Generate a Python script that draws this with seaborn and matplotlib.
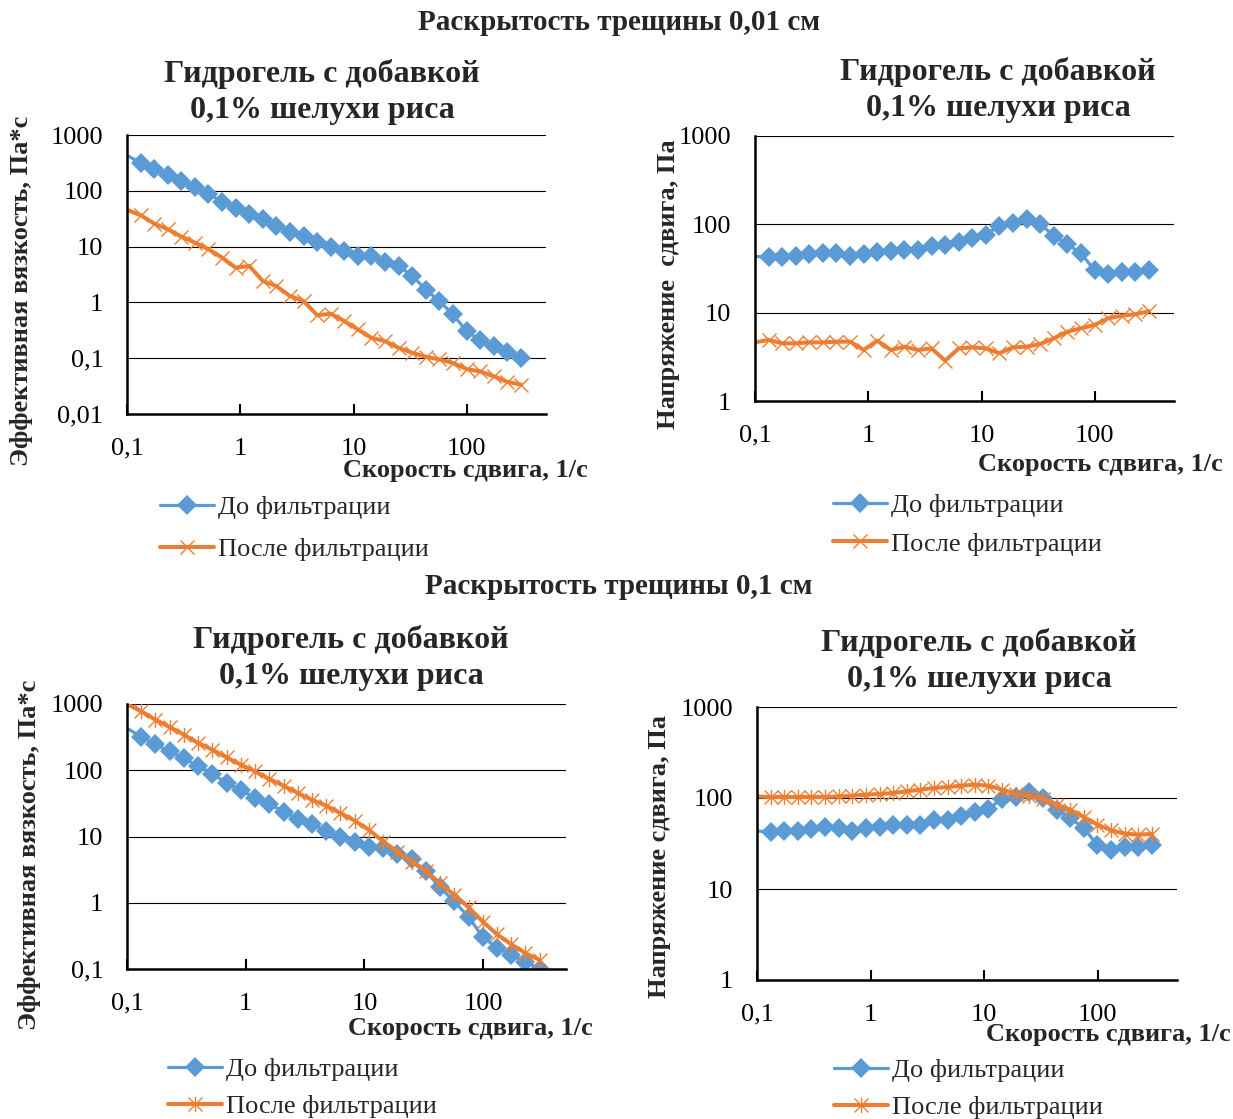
import numpy as np
import pandas as pd
import seaborn as sns
import matplotlib.pyplot as plt
from matplotlib.path import Path
from matplotlib.ticker import FixedLocator, NullLocator

# ---------------- data ----------------
shear_rate = [0.1, 0.1318, 0.1737, 0.2289, 0.3017, 0.3977, 0.5241, 0.6908, 0.9104,
              1.200, 1.581, 2.084, 2.747, 3.620, 4.771, 6.288, 8.287, 10.92, 14.39,
              18.97, 25.00, 32.95, 43.43, 57.24, 75.44, 99.43, 131.1, 172.7, 227.6, 300.0]

visc_before = [430, 320, 246, 192, 152, 116, 88.5, 63.5, 50, 38.7, 30.9, 23.7, 18.4, 15.5,
               11.9, 9.8, 8.4, 6.9, 6.7, 5.35, 4.5, 3.0, 1.7, 1.05, 0.61, 0.305, 0.21,
               0.163, 0.128, 0.1]
visc_after_001 = [45.6, 36.6, 25.9, 20.5, 15.1, 11.8, 8.96, 6.34, 4.2, 4.5, 2.42, 1.96, 1.30,
                  1.06, 0.59, 0.625, 0.462, 0.327, 0.232, 0.202, 0.153, 0.125, 0.106, 0.095,
                  0.082, 0.064, 0.058, 0.0475, 0.0376, 0.0336]
visc_after_01 = [1000, 774, 579, 449, 344, 258, 204, 156, 121, 95.9, 73.5, 58.3, 45.2, 35.8,
                 29.1, 22.5, 17.3, 12.6, 8.4, 5.93, 4.19, 3.03, 1.97, 1.31, 0.855, 0.519,
                 0.334, 0.236, 0.173, 0.137]

stress_before = [43.4, 42.2, 42.9, 43.8, 45.9, 47.5, 46.9, 43.4, 46.5, 48.3, 50.4, 51.1, 50.6,
                 57.1, 58.0, 62.7, 70.0, 76.6, 97.0, 102.6, 116, 100.8, 74.1, 59.8, 46.9,
                 30.3, 27.1, 28.6, 29.2, 30.8]
stress_after_001 = [4.61, 4.91, 4.50, 4.50, 4.61, 4.61, 4.70, 4.70, 3.78, 4.82, 3.78, 4.12, 3.78,
                    3.94, 2.86, 3.94, 4.05, 3.94, 3.47, 4.05, 4.12, 4.42, 5.12, 6.09, 6.65,
                    7.25, 8.63, 9.25, 9.58, 10.4]
stress_after_01 = [104, 102.6, 102.6, 102.6, 102.6, 102.6, 104, 106, 109, 110.7, 113.5, 118.4,
                   123.5, 128.8, 132, 136.7, 140.2, 136.7, 123.5, 111.7, 104, 98.4, 84.6, 74.5,
                   61.8, 51.0, 44.2, 40.6, 39.6, 40.2]

series_names = ["До фильтрации", "После фильтрации"]
suptitles = ["Раскрытость трещины 0,01 см", "Раскрытость трещины 0,1 см"]
panel_title = "Гидрогель с добавкой\n0,1% шелухи риса"
xlabel = "Скорость сдвига, 1/с"
ylabel_visc = "Эффективная вязкость, Па*с"
ylabel_stress_top = "Напряжение  сдвига, Па"
ylabel_stress_bottom = "Напряжение сдвига, Па"
x_ticks = [0.1, 1, 10, 100]
x_ticklabels = ["0,1", "1", "10", "100"]
y_ticks_visc_top = [0.01, 0.1, 1, 10, 100, 1000]
y_ticklabels_visc_top = ["0,01", "0,1", "1", "10", "100", "1000"]
y_ticks_visc_bottom = [0.1, 1, 10, 100, 1000]
y_ticklabels_visc_bottom = ["0,1", "1", "10", "100", "1000"]
y_ticks_stress = [1, 10, 100, 1000]
y_ticklabels_stress = ["1", "10", "100", "1000"]

# ---------------- style ----------------
sns.set_theme(style="white")
plt.rcParams['font.family'] = ['Liberation Serif', 'DejaVu Serif']

BLUE = "#5B9BD5"
ORANGE = "#ED7D31"
W, H = 1233, 1119
fig = plt.figure(figsize=(W / 100, H / 100), dpi=100)


def add_ax(l, r, t, b):
    return fig.add_axes([l / W, 1 - b / H, (r - l) / W, (b - t) / H])


def px(x, y):
    return x / W, 1 - y / H


star_path = Path([(-1, -1), (1, 1), (-1, 1), (1, -1), (0, -1.1), (0, 1.1)],
                 [Path.MOVETO, Path.LINETO, Path.MOVETO, Path.LINETO, Path.MOVETO, Path.LINETO])

panels = [
    dict(rect=(127, 546, 135, 414), yb=visc_before, ya=visc_after_001,
         yt=y_ticks_visc_top, ytl=y_ticklabels_visc_top, yl=ylabel_visc, mk='x', ms=9.5,
         xl=(465, 471), ylp=(22, 291), tp=(322, 92), lg=(160, 496), ls=0.7),
    dict(rect=(755, 1174, 136, 401), yb=stress_before, ya=stress_after_001,
         yt=y_ticks_stress, ytl=y_ticklabels_stress, yl=ylabel_stress_top, mk='x', ms=9.5,
         xl=(1100, 465), ylp=(668, 284), tp=(998, 90), lg=(833, 494), ls=0.56),
    dict(rect=(127, 566, 704, 969), yb=visc_before, ya=visc_after_01,
         yt=y_ticks_visc_bottom, ytl=y_ticklabels_visc_bottom, yl=ylabel_visc, mk=star_path, ms=11,
         xl=(470, 1028), ylp=(30, 855), tp=(351, 658), lg=(168, 1058), ls=0.5),
    dict(rect=(757, 1177, 707, 980), yb=stress_before, ya=stress_after_01,
         yt=y_ticks_stress, ytl=y_ticklabels_stress, yl=ylabel_stress_bottom, mk=star_path, ms=11,
         xl=(1108, 1035), ylp=(660, 857), tp=(979, 661), lg=(834, 1059), ls=0.5),
]

for p in panels:
    l, r, t, b = p['rect']
    ax = add_ax(l, r, t, b)
    df = pd.DataFrame({"rate": shear_rate, "before": p['yb'], "after": p['ya']})
    sns.lineplot(data=df, x="rate", y="before", ax=ax, color=BLUE, lw=2.3,
                 marker='D', markersize=10, markeredgewidth=0, markevery=slice(1, None),
                 label=series_names[0], estimator=None, sort=False, zorder=3)
    sns.lineplot(data=df, x="rate", y="after", ax=ax, color=ORANGE, lw=2.9,
                 marker=p['mk'], markersize=p['ms'], markeredgewidth=1.0, markerfacecolor='none',
                 markeredgecolor=ORANGE, markevery=slice(1, None),
                 label=series_names[1], estimator=None, sort=False, zorder=4)
    ax.set_xscale('log')
    ax.set_yscale('log')
    ax.set_xlim(0.1, 500)
    ax.set_ylim(p['yt'][0], p['yt'][-1])
    ax.xaxis.set_major_locator(FixedLocator(x_ticks))
    ax.set_xticklabels(x_ticklabels)
    ax.xaxis.set_minor_locator(NullLocator())
    ax.yaxis.set_major_locator(FixedLocator(p['yt']))
    ax.set_yticklabels(p['ytl'])
    ax.yaxis.set_minor_locator(NullLocator())
    ax.tick_params(axis='x', which='major', direction='in', length=7, width=1.5,
                   colors='black', labelsize=19, pad=17, bottom=True)
    ax.tick_params(axis='y', which='major', length=0, labelsize=19, pad=17, colors='black')
    ax.grid(axis='y', which='major', color='#000000', lw=0.8)
    ax.grid(axis='x', visible=False)
    for s in ['top', 'right']:
        ax.spines[s].set_visible(False)
    for s in ['left', 'bottom']:
        ax.spines[s].set_color('black')
        ax.spines[s].set_linewidth(1.8)
        ax.spines[s].set_zorder(5)

    w, h = r - l, b - t
    ax.set_xlabel(xlabel, fontsize=19, fontweight='bold', va='center', ha='center')
    ax.xaxis.set_label_coords((p['xl'][0] - l) / w, (b - p['xl'][1]) / h)
    ax.set_ylabel(p['yl'], fontsize=19, fontweight='bold', va='center', ha='center')
    ax.yaxis.set_label_coords((p['ylp'][0] - l) / w, (b - p['ylp'][1]) / h)
    ax.set_title(panel_title, fontsize=23, fontweight='bold', va='center', ha='center',
                 x=(p['tp'][0] - l) / w, y=(b - p['tp'][1]) / h, linespacing=1.3, pad=0)

    handles, labels = ax.get_legend_handles_labels()
    ax.legend(handles, labels, loc='upper left', bbox_to_anchor=px(*p['lg']),
              bbox_transform=fig.transFigure, frameon=False, fontsize=19,
              handlelength=2.05, handletextpad=0.15, borderpad=0, borderaxespad=0,
              labelspacing=p['ls'], numpoints=1)

fig.text(*px(619, 22), suptitles[0], ha='center', va='center', fontsize=21, fontweight='bold')
fig.text(*px(619, 587), suptitles[1], ha='center', va='center', fontsize=21, fontweight='bold')

fig.savefig("out.png", dpi=100, facecolor='white')
